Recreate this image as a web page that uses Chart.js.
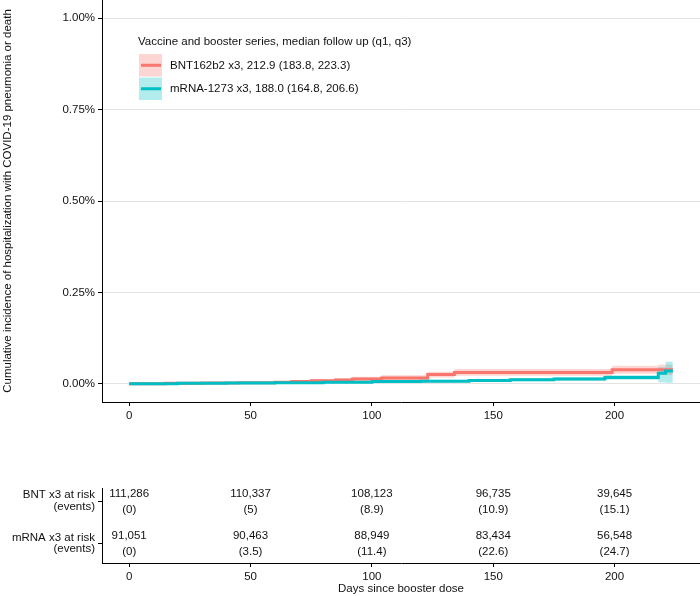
<!DOCTYPE html>
<html><head><meta charset="utf-8">
<script src="https://cdn.jsdelivr.net/npm/chart.js@4"></script>
<style>
html,body{margin:0;padding:0;background:#fff;}
#wrap{position:relative;width:700px;height:596px;overflow:hidden;}
canvas{position:absolute;left:0;}
#c1{top:0;width:700px;height:432px;}
#c2{top:432px;width:700px;height:164px;}
</style></head><body>
<div id="wrap">
<canvas id="c1" width="700" height="432"></canvas>
<canvas id="c2" width="700" height="164"></canvas>
</div>
<script>
// ---------- data (cumulative incidence in %) ----------
const bntDays  = [0, 15, 30, 45, 60, 67, 75, 85, 92, 104, 123, 134, 199, 218, 224];
const bntEst   = [0, 0.001, 0.002, 0.003, 0.004, 0.006, 0.008, 0.010, 0.013, 0.016, 0.025, 0.031, 0.038, 0.038, 0.038];
const bntLow   = [0, 0.000, 0.001, 0.001, 0.002, 0.003, 0.004, 0.006, 0.008, 0.010, 0.017, 0.022, 0.027, 0.024, 0.024];
const bntHigh  = [0, 0.002, 0.004, 0.005, 0.007, 0.009, 0.012, 0.015, 0.019, 0.023, 0.033, 0.040, 0.049, 0.052, 0.052];

const mrnaDays = [0, 20, 40, 60, 80, 100, 120, 140, 157, 175, 196, 218, 221, 224];
const mrnaEst  = [0, 0.001, 0.002, 0.003, 0.004, 0.006, 0.007, 0.009, 0.011, 0.013, 0.017, 0.029, 0.035, 0.035];
const mrnaLow  = [0, 0.000, 0.001, 0.001, 0.002, 0.003, 0.004, 0.005, 0.007, 0.008, 0.011, 0.004, 0.003, 0.003];
const mrnaHigh = [0, 0.002, 0.003, 0.005, 0.007, 0.009, 0.011, 0.013, 0.015, 0.018, 0.023, 0.045, 0.060, 0.060];

const xTicks = [0, 50, 100, 150, 200];
const yTicks = [0, 0.25, 0.5, 0.75, 1.0];
const yTickLabels = ["0.00%", "0.25%", "0.50%", "0.75%", "1.00%"];

const seriesLabels = ["BNT162b2 x3, 212.9 (183.8, 223.3)", "mRNA-1273 x3, 188.0 (164.8, 206.6)"];
const legendTitle = "Vaccine and booster series, median follow up (q1, q3)";
const yTitle = "Cumulative incidence of hospitalization with COVID-19 pneumonia or death";
const xTitle = "Days since booster dose";

const riskDays    = [0, 50, 100, 150, 200];
const bntAtRisk   = [111286, 110337, 108123, 96735, 39645];
const bntEvents   = [0, 5, 8.9, 10.9, 15.1];
const mrnaAtRisk  = [91051, 90463, 88949, 83434, 56548];
const mrnaEvents  = [0, 3.5, 11.4, 22.6, 24.7];
const riskRowLabels = [["BNT x3 at risk", "(events)"], ["mRNA x3 at risk", "(events)"]];

// ---------- styling ----------
const FONT = "'Liberation Sans', Arial, Helvetica, sans-serif";
const FS = 11.5;
const TXT = '#111';
const RED = '#F8766D', TEAL = '#00BFC4';
const RED_BAND = 'rgba(248,118,109,0.30)', TEAL_BAND = 'rgba(0,191,196,0.30)';
Chart.defaults.font.family = FONT;
Chart.defaults.font.size = FS;
Chart.defaults.color = TXT;

const X_MIN = -11.2, X_MAX = 235.2;

function pts(xs, ys) { return xs.map((x, i) => ({x: x, y: ys[i]})); }
const bandBase = {pointRadius: 0, stepped: true, borderWidth: 1, borderColor: 'rgba(0,0,0,0)'};

function xScale(extra) {
  return Object.assign({
    type: 'linear', min: X_MIN, max: X_MAX,
    afterBuildTicks: s => { s.ticks = xTicks.map(v => ({value: v})); },
    ticks: {padding: 3, maxRotation: 0, autoSkip: false, color: TXT, font: {size: FS}, callback: v => String(v)},
    grid: {drawOnChartArea: false, drawTicks: true, tickLength: 4, tickColor: '#000', tickWidth: 1},
    border: {display: true, color: '#000', width: 1}
  }, extra);
}

const legendPlugin = {
  id: 'kmLegend',
  afterDraw(chart) {
    const ctx = chart.ctx;
    ctx.save();
    ctx.font = FS + 'px ' + FONT;
    ctx.textBaseline = 'middle';
    ctx.textAlign = 'left';
    ctx.fillStyle = TXT;
    ctx.fillText(legendTitle, 138, 42);
    const items = [{c: RED, b: RED_BAND}, {c: TEAL, b: TEAL_BAND}];
    items.forEach((it, i) => {
      const y0 = 54 + i * 23.5;
      ctx.fillStyle = it.b;
      ctx.fillRect(139, y0, 23, 22.5);
      ctx.strokeStyle = it.c;
      ctx.lineWidth = 3;
      ctx.beginPath();
      ctx.moveTo(141, y0 + 11.25);
      ctx.lineTo(161, y0 + 11.25);
      ctx.stroke();
      ctx.fillStyle = TXT;
      ctx.fillText(seriesLabels[i], 170, y0 + 11.5);
    });
    ctx.restore();
  }
};

new Chart(document.getElementById('c1'), {
  type: 'line',
  data: {
    datasets: [
      Object.assign({data: pts(bntDays, bntLow), fill: false, order: 5}, bandBase),
      Object.assign({data: pts(bntDays, bntHigh), fill: '-1', backgroundColor: RED_BAND, order: 4}, bandBase),
      Object.assign({data: pts(mrnaDays, mrnaLow), fill: false, order: 3}, bandBase),
      Object.assign({data: pts(mrnaDays, mrnaHigh), fill: '-1', backgroundColor: TEAL_BAND, order: 2}, bandBase),
      {label: seriesLabels[0], data: pts(bntDays, bntEst), borderColor: RED, borderWidth: 3, pointRadius: 0, stepped: true, fill: false, order: 1},
      {label: seriesLabels[1], data: pts(mrnaDays, mrnaEst), borderColor: TEAL, borderWidth: 3, pointRadius: 0, stepped: true, fill: false, order: 0}
    ]
  },
  options: {
    responsive: false, animation: false, events: [],
    layout: {padding: 0},
    plugins: {legend: {display: false}, tooltip: {enabled: false}},
    scales: {
      x: xScale({afterFit: s => { s.height = 30; s.paddingLeft = 0; s.paddingRight = 0; }}),
      y: {
        type: 'linear', min: -0.05, max: 1.05,
        afterBuildTicks: s => { s.ticks = yTicks.map(v => ({value: v})); },
        ticks: {padding: 3, color: TXT, font: {size: FS}, callback: v => yTickLabels[yTicks.indexOf(v)]},
        grid: {color: '#e3e3e3', lineWidth: 1, drawTicks: true, tickLength: 4, tickColor: '#000', tickWidth: 1},
        border: {display: true, color: '#000', width: 1},
        title: {display: true, text: yTitle, color: TXT, padding: {top: 1, bottom: 0}, font: {size: FS}},
        afterFit: s => { s.width = 102; s.paddingTop = 0; s.paddingBottom = 0; }
      }
    }
  },
  plugins: [legendPlugin]
});

// ---------- risk table ----------
const fmtN = v => v.toLocaleString('en-US');
const fmtE = v => '(' + v + ')';
const riskPlugin = {
  id: 'riskTable',
  afterDraw(chart) {
    const ctx = chart.ctx, xs = chart.scales.x, ys = chart.scales.y;
    ctx.save();
    ctx.font = FS + 'px ' + FONT;
    ctx.fillStyle = TXT;
    ctx.textAlign = 'center';
    ctx.textBaseline = 'middle';
    const rows = [{v: 2, n: bntAtRisk, e: bntEvents}, {v: 1, n: mrnaAtRisk, e: mrnaEvents}];
    rows.forEach(r => {
      const y = ys.getPixelForValue(r.v);
      riskDays.forEach((d, i) => {
        const x = xs.getPixelForValue(d);
        ctx.fillText(fmtN(r.n[i]), x, y - 7.5);
        ctx.fillText(fmtE(r.e[i]), x, y + 8.5);
      });
    });
    ctx.restore();
  }
};

new Chart(document.getElementById('c2'), {
  type: 'line',
  data: {datasets: []},
  options: {
    responsive: false, animation: false, events: [],
    layout: {padding: {top: 56, left: 0, right: 0, bottom: 0}},
    plugins: {legend: {display: false}, tooltip: {enabled: false}},
    scales: {
      x: xScale({
        title: {display: true, text: xTitle, color: TXT, padding: {top: 0, bottom: 0}, font: {size: FS}},
        afterFit: s => { s.height = 33; s.paddingLeft = 0; s.paddingRight = 0; }
      }),
      y: {
        type: 'linear', min: 0.541, max: 2.306,
        afterBuildTicks: s => { s.ticks = [1, 2].map(v => ({value: v})); },
        ticks: {padding: 3, color: TXT, font: {size: FS, lineHeight: 1.0}, callback: v => riskRowLabels[2 - v]},
        grid: {drawOnChartArea: false, drawTicks: true, tickLength: 4, tickColor: '#000', tickWidth: 1},
        border: {display: true, color: '#000', width: 1},
        afterFit: s => { s.width = 102; s.paddingTop = 0; s.paddingBottom = 0; }
      }
    }
  },
  plugins: [riskPlugin]
});
</script>
</body></html>
